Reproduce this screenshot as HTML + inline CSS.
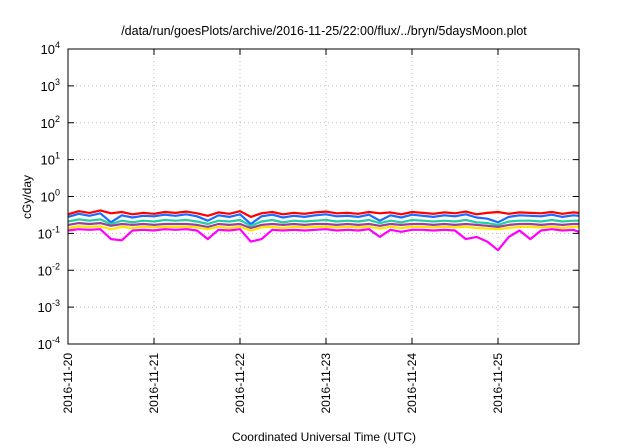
<!DOCTYPE html>
<html><head><meta charset="utf-8"><style>
body{margin:0;background:#fff;font-family:"Liberation Sans",sans-serif}
svg{display:block}
</style></head><body>
<svg id="chart" width="640" height="448" font-family="Liberation Sans, sans-serif">
<rect width="640" height="448" fill="#fff"/>
<text x="324" y="35" font-size="12.5" text-anchor="middle">/data/run/goesPlots/archive/2016-11-25/22:00/flux/../bryn/5daysMoon.plot</text>
<text transform="translate(31,197) rotate(-90)" font-size="12" text-anchor="middle">cGy/day</text>
<text x="324" y="441" font-size="12" text-anchor="middle">Coordinated Universal Time (UTC)</text>
<g id="grid"></g><g id="series"></g><g id="axes"></g>
</svg>
<script>
const dayLabels=["2016-11-20","2016-11-21","2016-11-22","2016-11-23","2016-11-24","2016-11-25"];
const yExps=[-4,-3,-2,-1,0,1,2,3,4];
const sampleDays=[0,0.125,0.25,0.375,0.5,0.625,0.75,0.875,1,1.125,1.25,1.375,1.5,1.625,1.75,1.875,2,2.125,2.25,2.375,2.5,2.625,2.75,2.875,3,3.125,3.25,3.375,3.5,3.625,3.75,3.875,4,4.125,4.25,4.375,4.5,4.625,4.75,4.875,5,5.125,5.25,5.375,5.5,5.625,5.75,5.875,5.94];
const red=[0.33,0.40,0.36,0.42,0.35,0.38,0.33,0.36,0.34,0.38,0.36,0.39,0.35,0.30,0.37,0.34,0.40,0.28,0.35,0.38,0.33,0.36,0.34,0.37,0.39,0.35,0.36,0.34,0.38,0.35,0.37,0.33,0.38,0.36,0.34,0.37,0.35,0.39,0.33,0.36,0.38,0.34,0.37,0.36,0.35,0.38,0.34,0.37,0.36];
const blue=[0.28,0.34,0.30,0.35,0.20,0.31,0.27,0.30,0.29,0.32,0.30,0.33,0.29,0.22,0.31,0.28,0.33,0.18,0.29,0.32,0.27,0.30,0.28,0.31,0.33,0.29,0.30,0.28,0.32,0.22,0.31,0.27,0.32,0.30,0.28,0.31,0.29,0.33,0.27,0.25,0.20,0.28,0.31,0.30,0.29,0.32,0.28,0.31,0.30];
const teal=[0.21,0.24,0.22,0.24,0.18,0.22,0.20,0.22,0.21,0.23,0.22,0.23,0.21,0.18,0.22,0.21,0.23,0.16,0.21,0.23,0.20,0.22,0.21,0.22,0.23,0.21,0.22,0.21,0.23,0.19,0.22,0.20,0.23,0.22,0.21,0.22,0.21,0.23,0.20,0.19,0.17,0.21,0.22,0.22,0.21,0.23,0.21,0.22,0.22];
const purple=[0.17,0.19,0.18,0.19,0.16,0.18,0.17,0.18,0.17,0.18,0.18,0.18,0.17,0.15,0.18,0.17,0.18,0.14,0.17,0.18,0.17,0.18,0.17,0.18,0.18,0.17,0.18,0.17,0.18,0.16,0.18,0.17,0.18,0.18,0.17,0.18,0.17,0.18,0.17,0.16,0.15,0.17,0.18,0.18,0.17,0.18,0.17,0.18,0.18];
const yellow=[0.14,0.155,0.15,0.155,0.13,0.15,0.14,0.15,0.145,0.15,0.15,0.15,0.145,0.13,0.15,0.14,0.15,0.12,0.145,0.15,0.14,0.15,0.145,0.15,0.15,0.145,0.15,0.145,0.15,0.135,0.15,0.14,0.15,0.15,0.145,0.15,0.145,0.15,0.14,0.135,0.13,0.14,0.15,0.15,0.145,0.15,0.14,0.15,0.15];
const magenta=[0.12,0.13,0.125,0.13,0.07,0.065,0.12,0.125,0.12,0.13,0.125,0.13,0.12,0.07,0.125,0.12,0.13,0.06,0.07,0.125,0.12,0.125,0.12,0.125,0.13,0.12,0.125,0.12,0.13,0.08,0.125,0.11,0.125,0.125,0.12,0.125,0.12,0.07,0.08,0.06,0.035,0.08,0.12,0.07,0.12,0.13,0.12,0.125,0.11];
const L=68,R=579,T=49,B=344,DAYW=86;
const xs=d=>L+d*DAYW;
const ys=v=>B-(Math.log10(v)+4)*(B-T)/8;
const NS="http://www.w3.org/2000/svg";
function mk(tag,attrs,parent){const e=document.createElementNS(NS,tag);for(const k in attrs)e.setAttribute(k,attrs[k]);parent.appendChild(e);return e;}
const grid=document.getElementById('grid'),axes=document.getElementById('axes'),ser=document.getElementById('series');
yExps.forEach((p,i)=>{const y=ys(Math.pow(10,p));
 if(i>0&&i<yExps.length-1){const g=mk('line',{x1:L,x2:R,y1:y,y2:y,stroke:'#bbb','stroke-dasharray':'1,3','stroke-width':1},grid);
 
 }
 mk('line',{x1:L,x2:L+6,y1:y,y2:y,stroke:'#000'},axes);mk('line',{x1:R,x2:R-6,y1:y,y2:y,stroke:'#000'},axes);
 const t=mk('text',{x:L-8,y:y+5,'font-size':13,'text-anchor':'end'},axes);
 
 
 t.innerHTML='10<tspan dy="-6" font-size="9">'+p+'</tspan>';});
dayLabels.forEach((lab,i)=>{const x=xs(i);
 if(i>0){const g=mk('line',{x1:x,x2:x,y1:T,y2:B,stroke:'#bbb','stroke-dasharray':'1,3'},grid);
 
 }
 mk('line',{x1:x,x2:x,y1:B,y2:B-6,stroke:'#000'},axes);mk('line',{x1:x,x2:x,y1:T,y2:T+6,stroke:'#000'},axes);
 const t=mk('text',{transform:`translate(${x+4},${B+9}) rotate(-90)`,'font-size':12,'text-anchor':'end'},axes);
 
 
 t.textContent=lab;});
const frame=mk('rect',{x:L,y:T,width:R-L,height:B-T,fill:'none',stroke:'#000','stroke-width':1},axes);


const list=[[red,'#ff0000','series-red'],[blue,'#1a6cff','series-blue'],[teal,'#22d0a0','series-teal'],[purple,'#9a3f9a','series-purple'],[yellow,'#ffe600','series-yellow'],[magenta,'#ff00ff','series-magenta']];
list.forEach(([arr,c,n])=>{const pts=arr.map((v,i)=>xs(sampleDays[i]).toFixed(1)+','+ys(v).toFixed(1)).join(' ');
 const p=mk('polyline',{points:pts,fill:'none',stroke:c,'stroke-width':2.2,'stroke-linejoin':'round'},ser);
 
 });
</script>
</body></html>
